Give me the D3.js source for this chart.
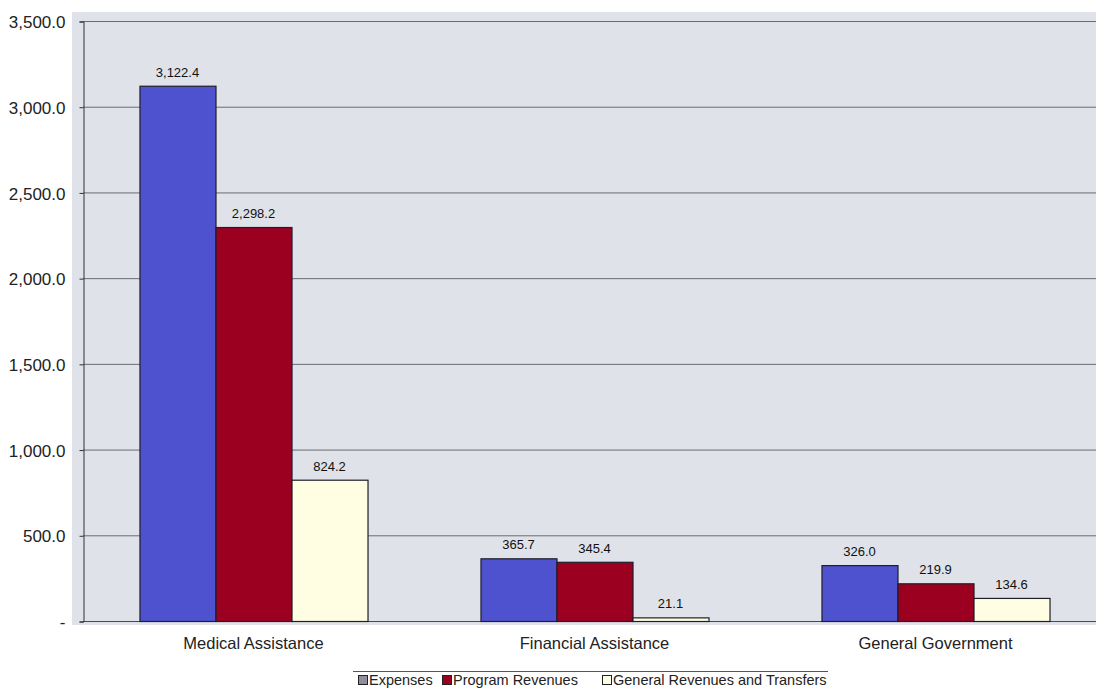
<!DOCTYPE html>
<html>
<head>
<meta charset="utf-8">
<script src="https://cdn.jsdelivr.net/npm/d3@7"></script>
<style>
  body { margin: 0; background: #fff; }
  text { font-family: Arial, "Liberation Sans", sans-serif; }
</style>
</head>
<body>
<div id="chart"></div>
<script>
// chart data
var categories = ["Medical Assistance", "Financial Assistance", "General Government"];
var series = ["Expenses", "Program Revenues", "General Revenues and Transfers"];
var expenses = [3122.4, 365.7, 326.0];
var programRevenues = [2298.2, 345.4, 219.9];
var generalRevenues = [824.2, 21.1, 134.6];
var yTicks = [0, 500, 1000, 1500, 2000, 2500, 3000, 3500];
var colors = ["#4f52cf", "#9c0021", "#fffde2"];

var W = 1096, H = 691;
var plotLeft = 83, plotRight = 1106, plotTop = 21, plotBottom = 621;

var svg = d3.select('#chart').append('svg')
  .attr('width', W)
  .attr('height', H);

// plot background
svg.append('rect')
  .attr('x', 72).attr('y', 12)
  .attr('width', W - 72).attr('height', plotBottom - 12 + 4)
  .attr('fill', '#dfe2e8');

var y = d3.scaleLinear().domain([0, 3500]).range([plotBottom, plotTop]);
var x0 = d3.scaleBand().domain(categories).range([plotLeft, plotRight]).padding(0);
var x1 = d3.scaleBand().domain(series).range([0, x0.bandwidth()]).paddingInner(0).paddingOuter(0.743);

// gridlines
svg.append('g').selectAll('line')
  .data(yTicks)
  .enter().append('line')
  .attr('x1', plotLeft).attr('x2', W)
  .attr('y1', function(d) { return y(d) + 0.5; })
  .attr('y2', function(d) { return y(d) + 0.5; })
  .attr('stroke', '#3a3a3a')
  .attr('stroke-opacity', function(d) { return d == 0 ? 0.9 : 0.7; })
  .attr('stroke-width', 1);

// y axis
var yAxis = d3.axisLeft(y)
  .tickValues(yTicks)
  .tickSize(4)
  .tickFormat(function(d) { return d == 0 ? '-' : d3.format(',.1f')(d); });
var ya = svg.append('g')
  .attr('transform', 'translate(' + (plotLeft + 0.5) + ',0.5)')
  .call(yAxis);
ya.select('.domain').attr('stroke', '#333');
ya.selectAll('.tick line').attr('stroke', '#333');
ya.selectAll('.tick text')
  .attr('x', -18)
  .attr('dy', '0.36em')
  .attr('font-size', '17px')
  .attr('fill', '#222');

var rows = categories.map(function(c, i) {
  return { cat: c, vals: [expenses[i], programRevenues[i], generalRevenues[i]] };
});

var groups = svg.selectAll('g.cat')
  .data(rows)
  .enter().append('g')
  .attr('class', 'cat')
  .attr('transform', function(d) { return 'translate(' + x0(d.cat) + ',0)'; });

var bars = groups.selectAll('g.bar')
  .data(function(d) { return d.vals.map(function(v, j) { return { s: series[j], v: v, j: j }; }); })
  .enter().append('g')
  .attr('class', 'bar');

bars.append('rect')
  .attr('x', function(d) { return x1(d.s) + 0.5; })
  .attr('y', function(d) { return y(d.v) + 0.5; })
  .attr('width', x1.bandwidth())
  .attr('height', function(d) { return plotBottom - y(d.v); })
  .attr('fill', function(d) { return colors[d.j]; })
  .attr('stroke', '#1e1e2a')
  .attr('stroke-width', 1.2);

bars.append('text')
  .attr('x', function(d) { return x1(d.s) + x1.bandwidth() / 2; })
  .attr('y', function(d) { return y(d.v) - 9; })
  .attr('text-anchor', 'middle')
  .attr('font-size', '13px')
  .attr('fill', '#111')
  .text(function(d) { return d3.format(',.1f')(d.v); });

// category labels
svg.selectAll('text.catlabel')
  .data(categories)
  .enter().append('text')
  .attr('class', 'catlabel')
  .attr('x', function(d) { return x0(d) + x0.bandwidth() / 2; })
  .attr('y', 649)
  .attr('text-anchor', 'middle')
  .attr('font-size', '16.5px')
  .attr('fill', '#222')
  .text(function(d) { return d; });

// legend
svg.append('line')
  .attr('x1', 353).attr('x2', 828)
  .attr('y1', 671.5).attr('y2', 671.5)
  .attr('stroke', '#555');
var legX = [358, 442, 602];
var leg = svg.selectAll('g.leg')
  .data(series)
  .enter().append('g')
  .attr('class', 'leg')
  .attr('transform', function(d, i) { return 'translate(' + legX[i] + ',675)'; });
leg.append('rect')
  .attr('x', 0.5).attr('y', 0.5)
  .attr('width', 9).attr('height', 9)
  .attr('fill', function(d, i) { return i == 0 ? '#8e8e9c' : colors[i]; })
  .attr('stroke', '#222');
leg.append('text')
  .attr('x', 11).attr('y', 10)
  .attr('font-size', '14.5px')
  .attr('fill', '#222')
  .text(function(d) { return d; });
</script>
</body>
</html>
